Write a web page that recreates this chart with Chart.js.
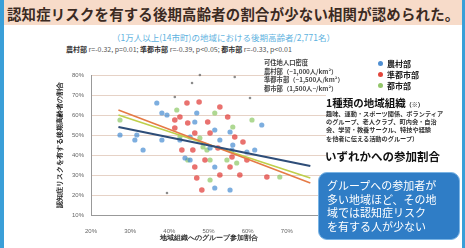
<!DOCTYPE html>
<html>
<head>
<meta charset="utf-8">
<script src="https://cdn.jsdelivr.net/npm/chart.js@4.4.1/dist/chart.umd.min.js"></script>
<style>
  body { margin:0; width:465px; height:248px; overflow:hidden; background:#fff;
         font-family:"Noto Sans CJK JP","Noto Sans",sans-serif; position:relative; }
  .abs { position:absolute; white-space:nowrap; }
  #strip { left:0; top:0; width:4px; height:248px; background:#3a9fd8; }
  #stripR { right:0; top:0; width:3px; height:248px; background:#3a9fd8; }
  #band { left:4px; top:0; width:458px; height:25px; background:#f7dbc9; }
  #title { left:7px; top:3px; font-size:14.4px; font-weight:bold; color:#3b2a22; letter-spacing:0.2px; }
  #sub { left:112px; top:31px; font-size:8.5px; color:#5eb2e0; }
  #stats { left:66px; top:44px; font-size:7px; font-weight:bold; color:#333; }
  #stats span { font-weight:normal; color:#555; }
  #density { left:264px; top:59px; font-size:6.3px; line-height:8.5px; color:#444; font-weight:bold; background:rgba(255,255,255,0.85); }
  #legend { left:378px; top:58px; font-size:8px; line-height:11px; font-weight:bold; color:#222; }
  #legend i { display:inline-block; width:5px; height:5px; border-radius:50%; margin-right:4px; vertical-align:1px; }
  #orgHead { left:326px; top:95px; font-size:10.5px; font-weight:bold; color:#111; }
  #orgHead small { font-size:6px; }
  #orgText { left:326px; top:110px; font-size:6.2px; line-height:8.2px; font-weight:bold; color:#333; }
  #orgTail { left:325px; top:148px; font-size:11.5px; font-weight:bold; color:#111; }
  #box { left:318px; top:172px; width:142px; height:68px; border-radius:9px;
         background:#2f7dc6; border:1px solid #7ab4e4; box-sizing:border-box;
         color:#fff; font-size:11px; line-height:13.5px; padding:6px 0 0 8px; white-space:normal; }
  #chart { position:absolute; left:30px; top:58px; }
</style>
</head>
<body>
<div class="abs" id="strip"></div>
<div class="abs" id="stripR"></div>
<div class="abs" id="band"></div>
<div class="abs" id="title">認知症リスクを有する後期高齢者の割合が少ない相関が認められた。</div>
<div class="abs" id="sub">（1万人以上(14市町)の地域における後期高齢者/2,771名）</div>
<div class="abs" id="stats">農村部 <span>r=-0.32, p=0.01;</span> 準都市部 <span>r=-0.39, p&lt;0.05;</span> 都市部 <span>r=-0.33, p&lt;0.01</span></div>
<canvas id="chart" width="310" height="190"></canvas>
<div class="abs" id="density">可住地人口密度<br>農村部（~1,000人/km²）<br>準都市部（~1,500人/km²）<br>都市部（1,500人~/km²）</div>
<div class="abs" id="legend"><i style="background:#4f8fd2"></i>農村部<br><i style="background:#e2463c"></i>準都市部<br><i style="background:#93c66a"></i>都市部</div>
<div class="abs" id="orgHead">1種類の地域組織<small>（※）</small></div>
<div class="abs" id="orgText">趣味、運動・スポーツ関係、ボランティア<br>のグループ、老人クラブ、町内会・自治<br>会、学習・教養サークル、特技や経験<br>を他者に伝える活動のグループ）</div>
<div class="abs" id="orgTail">いずれかへの参加割合</div>
<div class="abs" id="box">グループへの参加者が<br>多い地域ほど、その地<br>域では認知症リスク<br>を有する人が少ない</div>

<script>
// group participation (%) and share of late elderly at dementia risk (%)
const ruralX = [36.8,38.1,39.4,31.7,31.2,33.3,38.1,42.7,47.0,46.5,45.3,51.6,52.9,55.5,56.0,51.6,59.8,61.8,63.6,55.5,51.6,45.3,27.4,44.0,50.4,56.2]
const ruralY = [66,61,60,50,47.5,42.5,47.5,47.5,61,56.5,49,52.5,47.5,51.5,42.5,34,41.5,42.5,55,22.5,23.5,37.5,50,38.5,43.5,45]
const semiX = [44.5,47.6,42.7,41.4,44.7,41.4,46.5,49.8,50.4,52.9,54.9,56.7,58.8,43.2,46.0,49.1,46.5,52.9,55.5,56.0,58.0,59.8,64.9,47.0,48.3,52.4]
const semiY = [66,66.5,59,57.5,56,53.5,51,56.5,51,64,59,49,46.5,42.5,42.5,37.5,34,30,34,39,30,37.5,29,28.5,22.5,43.5]
const urbanX = [27.4,41.9,48.6,49.6,50.4,51.6,47.8,42.7,57.2,61.1,44.7,50.4,68.2,54.7,56.2]
const urbanY = [57.5,62.5,44,42.5,37.5,61,48.5,49,36,57.5,37.5,27.5,29,37.5,54]
const otherX = [47.8,56.7,45.8,41.4,60.6,39.4]
const otherY = [80,79,76,69,68.5,21]

// fitted lines, end points
const fitX = [27, 76]
const fitRural = [54, 34.5]
const fitSemi = [62.5, 26]
const fitUrban = [60, 28.5]

const xTicks = [20,30,40,50,60,70,80]
const yTicks = [10,20,30,40,50,60,70,80]

const pts = (xs, ys) => xs.map((x,i) => ({x:x, y:ys[i]}))

const scatter = (data, color, r) => ({
	type:'scatter', data:data, backgroundColor:color, borderColor:color,
	pointRadius:r, pointBorderWidth:0, clip:false, order:2
})
const fit = (ys, color, w) => ({
	type:'line', data:pts(fitX, ys), borderColor:color, borderWidth:w,
	pointRadius:0, fill:false, order:1
})

new Chart(document.getElementById('chart'), {
	data: {
		datasets: [
			scatter(pts(ruralX, ruralY), 'rgba(70,140,210,0.7)', 2.6),
			scatter(pts(semiX, semiY), 'rgba(225,60,55,0.72)', 2.8),
			scatter(pts(urbanX, urbanY), 'rgba(140,200,100,0.7)', 2.6),
			scatter(pts(otherX, otherY), 'rgba(90,90,90,0.7)', 1.3),
			fit(fitRural, '#2e4d78', 2.2),
			fit(fitSemi, '#e57a45', 1.6),
			fit(fitUrban, '#bfcf4a', 1.6)
		]
	},
	options: {
		responsive:false,
		animation:false,
		layout: { padding: { top:17, right:14, left:0, bottom:0 } },
		plugins: { legend:{display:false}, tooltip:{enabled:false} },
		scales: {
			x: {
				type:'linear', min:20, max:80,
				afterBuildTicks: s => { s.ticks = xTicks.map(v => ({value:v})) },
				afterFit: s => { s.height = 33 },
				grid: { display:false },
				border: { color:'#999', width:1 },
				ticks: { padding:5, color:'#666', font:{size:6}, callback: v => v + '%' },
				title: { display:true, text:'地域組織へのグループ参加割合', color:'#333',
					font:{size:7, weight:'bold'}, padding:{top:0, bottom:6} }
			},
			y: {
				type:'linear', min:10, max:80,
				afterBuildTicks: s => { s.ticks = yTicks.map(v => ({value:v})) },
				afterFit: s => { s.width = 61 },
				grid: { color:'#e6d2c6', lineWidth:1, drawTicks:false },
				border: { color:'#999', width:1 },
				ticks: { padding:7, color:'#666', font:{size:6}, callback: v => v + '%' },
				title: { display:true, text:'認知症リスクを有する後期高齢者の割合', color:'#222',
					font:{size:7, weight:'bold'}, padding:{top:26, bottom:0} }
			}
		}
	}
})
</script>
</body>
</html>
